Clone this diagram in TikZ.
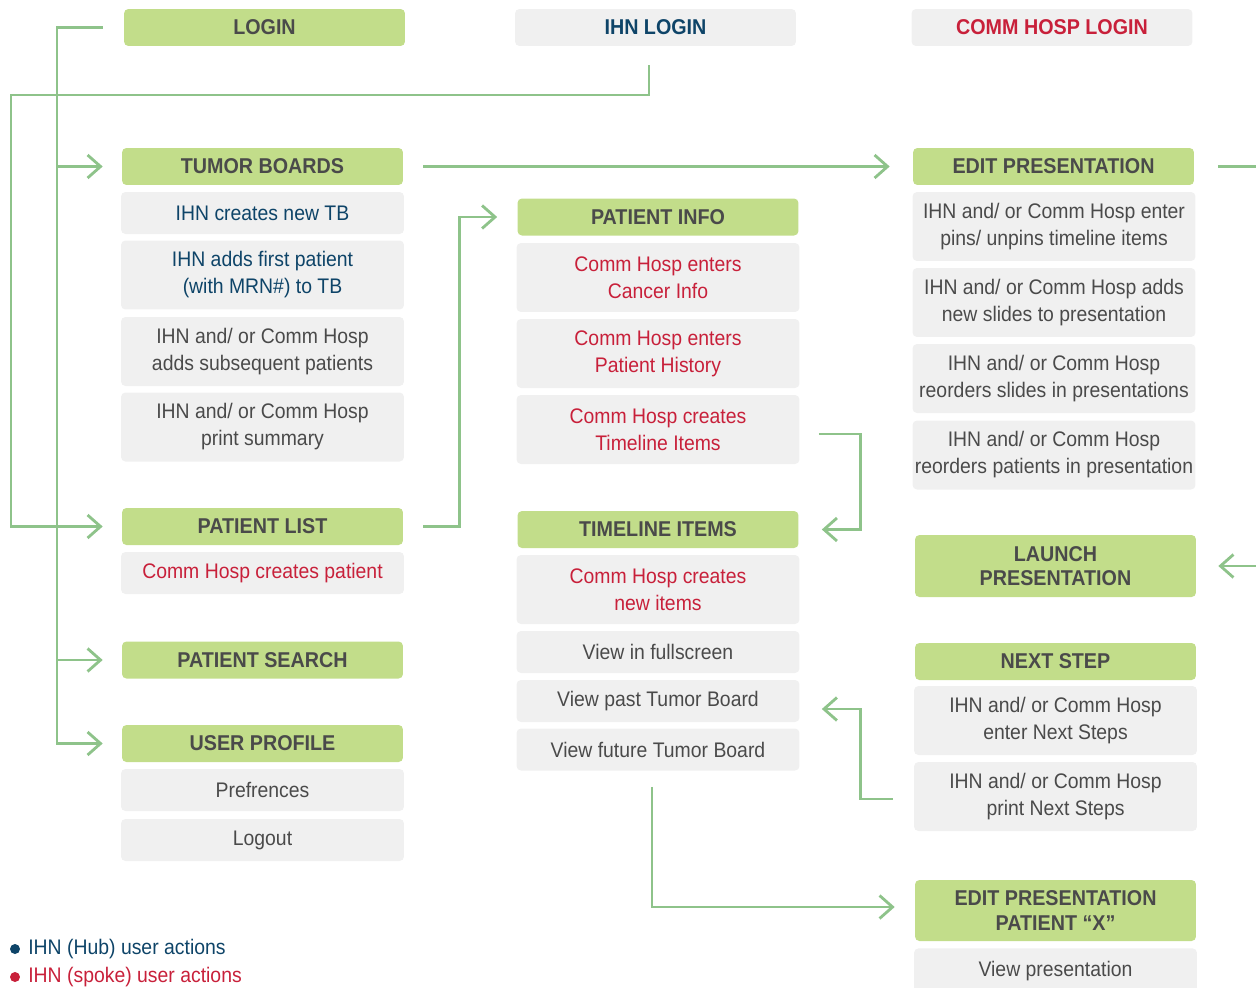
\documentclass[tikz,border=0pt]{standalone}
\usepackage{fontspec}
\setmainfont{Liberation Sans}[FakeStretch=0.92]
\usetikzlibrary{arrows.meta}
\definecolor{leaf}{HTML}{C2DD8A}
\definecolor{wire}{HTML}{8EC38A}
\definecolor{soft}{HTML}{F0F0F0}
\definecolor{ink}{HTML}{4A4A4A}
\definecolor{hub}{HTML}{0E4468}
\definecolor{spoke}{HTML}{C8203A}

\begin{document}
\begin{tikzpicture}[x=0.02cm,y=-0.02cm,
 head/.style={rounded corners=2.5pt,fill=leaf,minimum width=5.62cm,minimum height=.74cm,align=center,font=\bfseries\fontsize{12.2}{14}\selectfont,text=ink,inner sep=0pt},
 item/.style={rounded corners=2.5pt,fill=soft,minimum width=5.66cm,minimum height=.84cm,align=center,font=\fontsize{12}{15.4}\selectfont,text=ink,inner sep=0pt},
 tall/.style={item,minimum height=1.38cm},
 flow/.style={wire,line width=1.6pt,-{Straight Barb[length=2.6mm,width=4.6mm,line width=1.6pt]}},
 key/.style={anchor=west,font=\fontsize{12}{14}\selectfont,inner sep=0pt},
 dot/.style={circle,minimum size=.2cm,inner sep=0pt}]
 \useasboundingbox (0,0) rectangle (1256,987);
 % logins
 \node[head] (login) at (264.5,27.5) {LOGIN};
 \node[head,fill=soft,text=hub] (ihn) at (655.5,27.5) {IHN LOGIN};
 \node[head,fill=soft,text=spoke] (comm) at (1052,27.5) {COMM HOSP LOGIN};
 % left column
 \node[head] (tb) at (262.5,166.5) {TUMOR BOARDS};
 \node[item,text=hub] (tb1) at (262.5,213) {IHN creates new TB};
 \node[tall,text=hub] (tb2) at (262.5,275) {IHN adds first patient\\(with MRN\#) to TB};
 \node[tall] (tb3) at (262.5,351.5) {IHN and/ or Comm Hosp\\adds subsequent patients};
 \node[tall] (tb4) at (262.5,427) {IHN and/ or Comm Hosp\\print summary};
 \node[head] (plist) at (262.5,526.5) {PATIENT LIST};
 \node[item,text=spoke] (pl1) at (262.5,573) {Comm Hosp creates patient};
 \node[head] (psearch) at (262.5,660) {PATIENT SEARCH};
 \node[head] (uprof) at (262.5,743.5) {USER PROFILE};
 \node[item] (up1) at (262.5,790) {Prefrences};
 \node[item] (up2) at (262.5,840) {Logout};
 % middle column
 \node[head] (pinfo) at (658,217) {PATIENT INFO};
 \node[tall,text=spoke] (pi1) at (658,277.5) {Comm Hosp enters\\Cancer Info};
 \node[tall,text=spoke] (pi2) at (658,353.5) {Comm Hosp enters\\Patient History};
 \node[tall,text=spoke] (pi3) at (658,429.5) {Comm Hosp creates\\Timeline Items};
 \node[head] (tl) at (658,529.5) {TIMELINE ITEMS};
 \node[tall,text=spoke] (tl1) at (658,589.5) {Comm Hosp creates\\new items};
 \node[item] (tl2) at (658,652) {View in fullscreen};
 \node[item] (tl3) at (658,701) {View past Tumor Board};
 \node[item] (tl4) at (658,749.5) {View future Tumor Board};
 % right column
 \node[head] (ep) at (1053.5,166.5) {EDIT PRESENTATION};
 \node[tall] (ep1) at (1054,226.5) {IHN and/ or Comm Hosp enter\\pins/ unpins timeline items};
 \node[tall] (ep2) at (1054,302.5) {IHN and/ or Comm Hosp adds\\new slides to presentation};
 \node[tall] (ep3) at (1054,378.5) {IHN and/ or Comm Hosp\\reorders slides in presentations};
 \node[tall] (ep4) at (1054,455) {IHN and/ or Comm Hosp\\reorders patients in presentation};
 \node[head,minimum height=1.24cm] (launch) at (1055.5,566) {LAUNCH\\PRESENTATION};
 \node[head] (ns) at (1055.5,661.5) {NEXT STEP};
 \node[tall] (ns1) at (1055.5,720.5) {IHN and/ or Comm Hosp\\enter Next Steps};
 \node[tall] (ns2) at (1055.5,796.5) {IHN and/ or Comm Hosp\\print Next Steps};
 \node[head,minimum height=1.22cm] (epx) at (1055.5,910.5) {EDIT PRESENTATION\\PATIENT “X”};
 \node[item,anchor=north,minimum height=.9cm] (epx1) at (1055.5,948) {View presentation};
 % key
 \node[dot,fill=hub] (hubdot) at (15,949) {};
 \node[key,text=hub] (hubkey) at (28,949) {IHN (Hub) user actions};
 \node[dot,fill=spoke] (spokedot) at (15,977) {};
 \node[key,text=spoke] (spokekey) at (28,977) {IHN (spoke) user actions};
 % connectors
 \coordinate (spine) at (57,27.5);
 \coordinate (outer) at (11,95);
 \draw[flow] ([xshift=-.42cm]login.west) -- (spine) |- ([xshift=-.38cm]uprof.west);
 \draw[flow] (spine |- tb) -- ([xshift=-.38cm]tb.west);
 \draw[flow] (spine |- psearch) -- ([xshift=-.38cm]psearch.west);
 \draw[flow] ([shift={(-.13cm,-.38cm)}]ihn.south) |- (outer) |- ([xshift=-.38cm]plist.west);
 \draw[flow] ([xshift=.4cm]tb.east) -- ([xshift=-.46cm]ep.west);
 \draw[flow] ([xshift=.4cm]plist.east) -- ++(36,0) |- ([xshift=-.4cm]pinfo.west);
 \draw[flow] ([shift={(.38cm,-.09cm)}]pi3.east) -- ++(42,0) |- ([xshift=.46cm]tl.east);
 \draw[flow] ([xshift=.48cm]ep.east) -- ++(80,0) |- ([xshift=.44cm]launch.east);
 \draw[flow] ([shift={(-.42cm,-.05cm)}]ns2.west) -- ++(-32,0) |- ([shift={(.44cm,-.16cm)}]tl3.east);
 \draw[flow] ([shift={(-.12cm,-.32cm)}]tl4.south) |- ([shift={(-.4cm,.07cm)}]epx.west);
\end{tikzpicture}
\end{document}
